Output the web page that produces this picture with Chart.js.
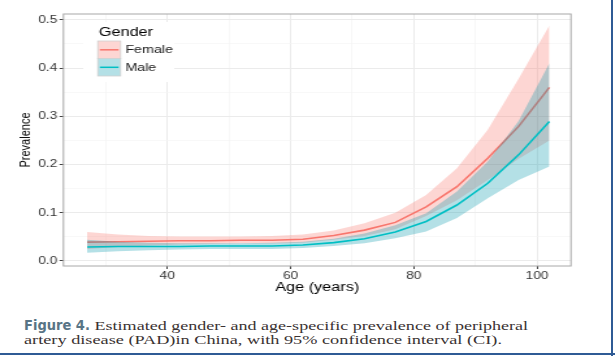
<!DOCTYPE html>
<html>
<head>
<meta charset="utf-8">
<script src="https://cdn.jsdelivr.net/npm/chart.js@4/dist/chart.umd.min.js"></script>
<style>
  html, body { margin: 0; padding: 0; background: #ffffff; }
  body { width: 615px; height: 356px; position: relative; overflow: hidden; }
  #wrap { position: absolute; left: 0; top: 0; width: 473px; height: 300px; transform: scaleX(1.3); transform-origin: 0 0; }
  #frameR { position: absolute; left: 611px; top: 0; width: 2px; height: 356px; background: #2f5b95; }
  #frameB { position: absolute; left: 0; top: 353px; width: 615px; height: 2px; background: #2f5b95; }
  .cap { position: absolute; left: 24px; white-space: nowrap; font-family: "Liberation Serif", "DejaVu Serif", serif; font-size: 13.5px; line-height: 14px; color: #3a3232; }
  .cap b { font-family: "Liberation Sans Narrow", "DejaVu Sans Condensed", "Liberation Sans", sans-serif; color: #587485; font-weight: bold; font-size: 14.5px; }
  .cap .r { display: inline-block; transform-origin: 0 0; }
</style>
</head>
<body>
<div id="wrap"><canvas id="c" width="473" height="300"></canvas></div>
<div class="cap" id="cap1" style="top:318px"><b id="fig">Figure 4.</b><span class="r" id="r1">&nbsp;Estimated gender- and age-specific prevalence of peripheral</span></div>
<div class="cap" id="cap2" style="top:333px"><span class="r" id="r2">artery disease (PAD)in China, with 95% confidence interval (CI).</span></div>
<div id="frameR"></div>
<div id="frameB"></div>
<script>
const ages = [27, 32, 37, 42, 47, 52, 57, 62, 67, 72, 77, 82, 87, 92, 97, 102];
const femaleFit   = [0.039, 0.040, 0.041, 0.042, 0.042, 0.043, 0.043, 0.045, 0.053, 0.064, 0.080, 0.112, 0.154, 0.213, 0.279, 0.360];
const femaleUpper = [0.060, 0.055, 0.052, 0.051, 0.051, 0.051, 0.052, 0.055, 0.063, 0.078, 0.100, 0.137, 0.192, 0.272, 0.378, 0.488];
const femaleLower = [0.025, 0.029, 0.032, 0.034, 0.035, 0.036, 0.036, 0.038, 0.044, 0.052, 0.066, 0.093, 0.126, 0.168, 0.212, 0.250];
const maleFit     = [0.029, 0.030, 0.030, 0.030, 0.031, 0.031, 0.031, 0.033, 0.038, 0.046, 0.060, 0.082, 0.116, 0.161, 0.220, 0.289];
const maleUpper   = [0.044, 0.040, 0.038, 0.037, 0.037, 0.037, 0.038, 0.040, 0.046, 0.057, 0.074, 0.099, 0.144, 0.206, 0.290, 0.410];
const maleLower   = [0.017, 0.020, 0.022, 0.024, 0.025, 0.025, 0.025, 0.027, 0.031, 0.037, 0.047, 0.061, 0.089, 0.130, 0.168, 0.196];

const xTicks = [30, 40, 50, 60, 70, 80, 90, 100];
const xMajor = [40, 60, 80, 100];
const yTicks = [0, 0.05, 0.1, 0.15, 0.2, 0.25, 0.3, 0.35, 0.4, 0.45, 0.5];
const yMajor = [0, 0.1, 0.2, 0.3, 0.4, 0.5];
const yLabels = ['0.0', '0.1', '0.2', '0.3', '0.4', '0.5'];

const legendTitle = 'Gender';
const seriesNames = ['Female', 'Male'];

const FEM = '#F8766D', MAL = '#00BFC4';
const FEM_FILL = 'rgba(248,118,109,0.30)', MAL_FILL = 'rgba(8,152,172,0.30)';

const pts = (arr) => ages.map((a, i) => ({ x: a, y: arr[i] }));
const isMajor = (list, v) => list.some(m => Math.abs(m - v) < 1e-9);

const frame = {
  id: 'frame',
  afterDatasetsDraw(chart) {
    const { ctx } = chart;
    ctx.save();
    ctx.fillStyle = '#ffffff';
    ctx.fillRect(64, 22, 70, 60);
    ctx.fillStyle = '#000000';
    ctx.font = '12.5px "Liberation Sans", Arial, sans-serif';
    ctx.textBaseline = 'middle';
    ctx.fillText(legendTitle, 76, 33);
    const keys = [[FEM, FEM_FILL, 41], [MAL, MAL_FILL, 58.5]];
    keys.forEach(([col, fill, y], i) => {
      ctx.fillStyle = '#ffffff';
      ctx.fillRect(75.2, y, 17.6, 17.5);
      ctx.fillStyle = fill;
      ctx.fillRect(75.2, y, 17.6, 17.5);
      ctx.strokeStyle = '#d0d0d0';
      ctx.lineWidth = 0.8;
      ctx.strokeRect(75.2, y, 17.6, 17.5);
      ctx.strokeStyle = col;
      ctx.lineWidth = 1.5;
      ctx.beginPath();
      ctx.moveTo(76.8, y + 8.8);
      ctx.lineTo(91.2, y + 8.8);
      ctx.stroke();
      ctx.fillStyle = '#1a1a1a';
      ctx.font = '11px "Liberation Sans", Arial, sans-serif';
      ctx.fillText(seriesNames[i], 96.4, y + 9);
    });
    ctx.restore();
  },
  afterDraw(chart) {
    const { ctx, chartArea: a } = chart;
    ctx.save();
    ctx.strokeStyle = '#a8a8a8';
    ctx.lineWidth = 1;
    ctx.strokeRect(a.left, a.top, a.right - a.left, a.bottom - a.top);
    ctx.restore();
  }
};

new Chart(document.getElementById('c'), {
  type: 'line',
  data: {
    datasets: [
      { label: 'Male', data: pts(maleFit), borderColor: MAL, borderWidth: 1.6, pointRadius: 0, fill: false, tension: 0 },
      { label: 'Male upper', data: pts(maleUpper), borderWidth: 0, borderColor: 'rgba(0,0,0,0)', pointRadius: 0, fill: '+1', backgroundColor: MAL_FILL, tension: 0 },
      { label: 'Male lower', data: pts(maleLower), borderWidth: 0, borderColor: 'rgba(0,0,0,0)', pointRadius: 0, fill: false, tension: 0 },
      { label: 'Female', data: pts(femaleFit), borderColor: FEM, borderWidth: 1.6, pointRadius: 0, fill: false, tension: 0 },
      { label: 'Female upper', data: pts(femaleUpper), borderWidth: 0, borderColor: 'rgba(0,0,0,0)', pointRadius: 0, fill: '+1', backgroundColor: FEM_FILL, tension: 0 },
      { label: 'Female lower', data: pts(femaleLower), borderWidth: 0, borderColor: 'rgba(0,0,0,0)', pointRadius: 0, fill: false, tension: 0 }
    ]
  },
  options: {
    responsive: false,
    animation: false,
    devicePixelRatio: 1,
    layout: { padding: { left: 0, right: 33.8, top: 14, bottom: 0 } },
    plugins: { legend: { display: false }, tooltip: { enabled: false } },
    scales: {
      x: {
        type: 'linear',
        min: 23.16,
        max: 105.5,
        afterBuildTicks(s) { s.ticks = xTicks.map(v => ({ value: v })); },
        afterFit(s) { s.height = 34; },
        ticks: {
          autoSkip: false, maxRotation: 0, padding: 1,
          color: '#333333',
          font: { family: '"Liberation Sans", Arial, sans-serif', size: 10.5 },
          callback: (v) => isMajor(xMajor, v) ? String(v) : ''
        },
        grid: {
          color: (c) => isMajor(xMajor, c.tick.value) ? '#ebebeb' : '#f4f4f4',
          lineWidth: (c) => isMajor(xMajor, c.tick.value) ? 1 : 0.6,
          tickColor: (c) => isMajor(xMajor, c.tick.value) ? '#444444' : 'rgba(0,0,0,0)',
          tickLength: 3, tickWidth: 1
        },
        border: { display: false },
        title: {
          display: true, text: 'Age (years)', color: '#000000',
          font: { family: '"Liberation Sans", Arial, sans-serif', size: 12.5 },
          padding: { top: 0, bottom: 5 }
        }
      },
      y: {
        type: 'linear',
        min: -0.0104,
        max: 0.512,
        afterBuildTicks(s) { s.ticks = yTicks.map(v => ({ value: v })); },
        afterFit(s) { s.width = 48.8; },
        ticks: {
          autoSkip: false, padding: 1.8,
          color: '#333333',
          font: { family: '"Liberation Sans", Arial, sans-serif', size: 10.5 },
          callback: (v) => { const i = yMajor.findIndex(m => Math.abs(m - v) < 1e-9); return i >= 0 ? yLabels[i] : ''; }
        },
        grid: {
          color: (c) => isMajor(yMajor, c.tick.value) ? '#ebebeb' : '#f4f4f4',
          lineWidth: (c) => isMajor(yMajor, c.tick.value) ? 1 : 0.6,
          tickColor: (c) => isMajor(yMajor, c.tick.value) ? '#444444' : 'rgba(0,0,0,0)',
          tickLength: 3, tickWidth: 1
        },
        border: { display: false },
        title: {
          display: true, text: 'Prevalence', color: '#000000',
          font: { family: '"Liberation Sans", Arial, sans-serif', size: 11 },
          padding: { top: 13.5, bottom: 0 }
        }
      }
    }
  },
  plugins: [frame]
});

function fitSpan(id, target) {
  const el = document.getElementById(id);
  el.style.transform = 'none';
  const w = el.getBoundingClientRect().width;
  el.style.transform = 'scaleX(' + (target / w) + ')';
}
const figW = document.getElementById('fig').getBoundingClientRect().width;
fitSpan('r1', 504 - figW);
fitSpan('r2', 478);
</script>
</body>
</html>
